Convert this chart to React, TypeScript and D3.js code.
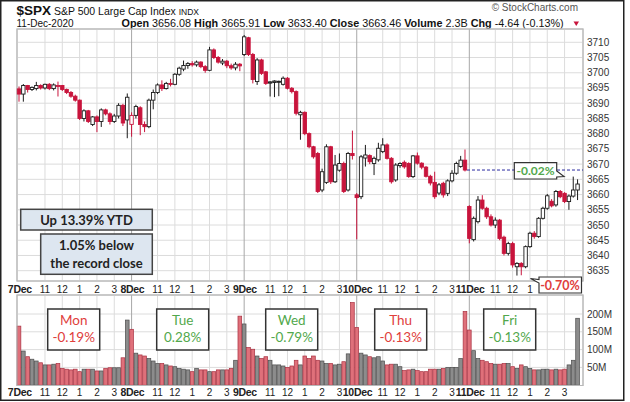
import React from 'react';
import * as d3 from 'd3';

const W = 630;
const H = 402;

const dayLabels = ['7Dec', '8Dec', '9Dec', '10Dec', '11Dec'];
const hourLabels = ['11', '12', '1', '2', '3'];
const hourOffsets = [6, 10, 14, 18, 22];
const barsPerDay = 26;

const open = [
  3694.7, 3693.0, 3695.8, 3694.5, 3694.8, 3695.8, 3695.0, 3696.2, 3694.8, 3695.5, 3695.8, 3694.5, 3693.5, 3692.3, 3691.0, 3685.0, 3687.5, 3683.0, 3685.5, 3684.0, 3687.8, 3686.5, 3684.0, 3685.8, 3689.3, 3684.5,
  3683.05, 3686.0, 3688.5, 3683.0, 3682.3, 3691.0, 3693.5, 3696.0, 3694.8, 3696.5, 3696.2, 3699.5, 3701.2, 3702.4, 3703.0, 3702.6, 3703.5, 3702.0, 3700.8, 3707.5, 3705.0, 3703.2, 3703.8, 3702.3, 3701.6, 3702.8,
  3705.98, 3711.5, 3706.0, 3697.1, 3704.2, 3700.3, 3697.0, 3697.3, 3697.2, 3696.2, 3698.2, 3694.9, 3693.8, 3686.2, 3687.0, 3680.0, 3675.7, 3673.5, 3661.5, 3664.0, 3675.7, 3664.2, 3668.0, 3670.2, 3661.5, 3673.5,
  3659.9, 3659.3, 3672.0, 3672.8, 3670.2, 3671.4, 3674.1, 3676.3, 3671.9, 3664.8, 3669.5, 3670.6, 3670.2, 3665.9, 3672.7, 3670.3, 3669.0, 3666.0, 3664.0, 3660.5, 3663.7, 3660.4, 3664.5, 3667.0, 3669.2, 3671.3,
  3656.08, 3645.2, 3651.1, 3658.2, 3655.5, 3652.7, 3650.0, 3651.6, 3646.0, 3640.7, 3643.9, 3636.3, 3637.4, 3636.3, 3642.9, 3647.3, 3646.2, 3652.2, 3655.5, 3657.8, 3656.6, 3661.0, 3660.4, 3657.7, 3659.5, 3661.5,
];
const high = [
  3695.5, 3696.3, 3696.0, 3695.5, 3697.0, 3696.2, 3696.4, 3696.6, 3696.5, 3697.1, 3696.0, 3694.8, 3694.0, 3692.8, 3691.2, 3688.0, 3687.8, 3685.8, 3686.0, 3688.3, 3688.2, 3687.0, 3686.5, 3690.0, 3689.8, 3693.2,
  3687.0, 3689.5, 3689.0, 3684.0, 3691.5, 3694.5, 3696.5, 3697.5, 3697.0, 3698.0, 3699.9, 3702.0, 3704.0, 3703.5, 3703.8, 3704.0, 3703.8, 3702.5, 3708.5, 3708.0, 3705.5, 3704.5, 3704.2, 3703.0, 3703.5, 3703.2,
  3712.4, 3711.8, 3706.5, 3704.8, 3704.6, 3700.6, 3697.2, 3697.5, 3697.4, 3698.8, 3698.6, 3695.3, 3694.2, 3687.5, 3687.3, 3680.4, 3676.0, 3674.0, 3668.5, 3676.5, 3676.0, 3673.0, 3673.5, 3670.8, 3674.0, 3681.0,
  3660.5, 3673.0, 3676.3, 3673.2, 3672.5, 3677.0, 3678.5, 3676.8, 3672.3, 3670.3, 3670.6, 3671.2, 3670.6, 3673.0, 3673.8, 3670.6, 3669.4, 3666.5, 3667.5, 3663.8, 3664.2, 3665.0, 3668.0, 3670.8, 3672.7, 3674.8,
  3656.5, 3652.8, 3659.5, 3659.8, 3656.0, 3653.5, 3652.5, 3652.0, 3646.5, 3644.5, 3644.5, 3637.8, 3637.8, 3643.3, 3647.8, 3648.0, 3652.6, 3656.0, 3660.2, 3658.5, 3661.5, 3661.5, 3660.8, 3660.0, 3665.9, 3665.0,
];
const low = [
  3690.5, 3690.5, 3693.5, 3694.0, 3694.2, 3694.5, 3694.5, 3694.3, 3694.2, 3692.2, 3694.0, 3693.0, 3691.8, 3690.5, 3684.5, 3684.0, 3683.5, 3682.5, 3680.5, 3682.2, 3686.0, 3683.0, 3683.5, 3685.0, 3682.5, 3678.5,
  3679.0, 3685.0, 3679.5, 3680.5, 3681.8, 3688.0, 3693.0, 3694.0, 3694.5, 3695.5, 3695.9, 3699.0, 3700.5, 3701.3, 3702.0, 3702.0, 3701.5, 3700.0, 3700.5, 3704.5, 3703.0, 3702.5, 3701.5, 3701.0, 3700.8, 3700.5,
  3705.5, 3705.5, 3696.5, 3696.0, 3699.3, 3696.0, 3692.2, 3692.0, 3692.3, 3695.8, 3694.5, 3693.2, 3686.0, 3678.0, 3679.5, 3675.2, 3671.8, 3660.5, 3660.8, 3663.5, 3663.5, 3663.8, 3667.5, 3660.5, 3661.0, 3671.5,
  3645.3, 3658.5, 3669.2, 3670.0, 3666.4, 3670.8, 3673.6, 3671.5, 3663.6, 3664.2, 3668.8, 3668.5, 3665.5, 3665.4, 3669.8, 3668.3, 3665.6, 3663.0, 3658.6, 3659.8, 3659.0, 3659.5, 3664.0, 3666.5, 3668.8, 3667.6,
  3644.0, 3644.6, 3650.5, 3655.0, 3652.0, 3649.5, 3649.0, 3645.0, 3640.0, 3640.0, 3636.0, 3633.4, 3633.5, 3635.8, 3642.5, 3645.5, 3645.8, 3651.8, 3655.0, 3655.8, 3656.0, 3658.8, 3657.2, 3655.0, 3659.0, 3658.2,
];
const close = [
  3693.0, 3695.8, 3694.5, 3695.2, 3695.8, 3695.0, 3696.2, 3694.8, 3696.0, 3695.8, 3694.5, 3693.5, 3692.3, 3691.0, 3685.0, 3687.5, 3684.0, 3685.5, 3684.0, 3687.8, 3686.5, 3684.0, 3685.8, 3689.3, 3683.5, 3691.96,
  3686.0, 3688.9, 3683.0, 3682.3, 3691.0, 3693.5, 3696.0, 3694.8, 3696.5, 3696.2, 3699.5, 3701.5, 3702.4, 3703.0, 3702.6, 3703.5, 3702.0, 3700.8, 3707.5, 3705.0, 3703.5, 3703.8, 3702.3, 3701.6, 3702.8, 3702.25,
  3711.8, 3706.0, 3697.8, 3704.2, 3699.8, 3696.5, 3696.6, 3696.8, 3696.9, 3698.2, 3694.9, 3693.8, 3686.7, 3687.0, 3680.0, 3675.7, 3672.4, 3661.0, 3667.5, 3675.7, 3664.2, 3669.7, 3670.2, 3661.0, 3673.5, 3672.8,
  3659.0, 3672.4, 3673.0, 3670.8, 3671.9, 3675.2, 3676.3, 3671.9, 3664.2, 3669.7, 3670.2, 3669.1, 3665.9, 3672.7, 3670.3, 3669.0, 3666.0, 3663.8, 3659.3, 3663.2, 3659.9, 3664.5, 3667.0, 3670.2, 3671.3, 3668.06,
  3645.6, 3652.2, 3658.2, 3655.5, 3652.7, 3650.0, 3651.6, 3645.6, 3640.7, 3643.9, 3636.9, 3637.4, 3636.3, 3642.9, 3647.3, 3646.2, 3652.2, 3655.5, 3659.6, 3656.3, 3661.0, 3659.3, 3657.7, 3659.5, 3661.5, 3663.46,
];
// volume in millions
const volume = [
  166, 96, 80, 73, 68, 63, 57, 57, 59, 61, 47, 45, 43, 45, 38, 45, 45, 45, 40, 40, 47, 49, 49, 49, 77, 183,
  157, 90, 85, 82, 75, 68, 61, 61, 57, 54, 52, 47, 45, 43, 38, 47, 43, 43, 38, 38, 43, 43, 43, 47, 70, 194,
  172, 106, 101, 82, 75, 80, 70, 57, 57, 54, 50, 54, 70, 57, 82, 75, 82, 70, 68, 61, 61, 57, 59, 66, 88, 232,
  162, 90, 85, 80, 77, 80, 68, 57, 59, 59, 52, 41, 43, 45, 41, 38, 38, 45, 45, 45, 47, 50, 50, 50, 75, 207,
  155, 97, 75, 70, 66, 61, 59, 59, 61, 61, 52, 47, 57, 52, 47, 43, 43, 45, 45, 43, 45, 43, 45, 57, 70, 188,
];

const priceTicks = d3.range(3635, 3711, 5);
const volumeTicks = [50, 100, 150, 200];
const volumeTickLabels = ['50M', '100M', '150M', '200M'];

const quoteLabels = ['Open', 'High', 'Low', 'Close', 'Volume', 'Chg'];
const quoteValues = ['3656.08', '3665.91', '3633.40', '3663.46', '2.3B', '-4.64 (-0.13%)'];

const weekdayNames = ['Mon', 'Tue', 'Wed', 'Thu', 'Fri'];
const weekdayChanges = ['-0.19%', '0.28%', '-0.79%', '-0.13%', '-0.13%'];
const weekdayGreen = [false, true, true, false, true];

const prevClose = 3668.06;

const RED = '#c8143c';
const TXT_RED = '#e0403c';
const TXT_GREEN = '#52a84c';
const AX = 'Liberation Sans, Arial, sans-serif';
const NOTE = 'Lato, "Open Sans", sans-serif';

export default function App() {
  const n = close.length;
  const pL = 17, pR = 583, pT = 29, pB = 281;
  const vT = 295, vB = 385.5;
  const x = d3.scaleLinear().domain([0, n - 1]).range([19, 19 + (n - 1) * 4.33]);
  const y = d3.scaleLinear().domain([3635, 3710]).range([270.7, 42.3]);
  const yv = d3.scaleLinear().domain([0, 200]).range([385.2, 314]);

  const dayIdx = d3.range(dayLabels.length).map((d) => d * barsPerDay);
  const hourIdx: { i: number; label: string }[] = [];
  dayIdx.forEach((s) => hourOffsets.forEach((o, k) => hourIdx.push({ i: s + o, label: hourLabels[k] })));

  const bw = 3.4;
  const candles = d3.range(n).map((i) => {
    const o = open[i], h = high[i], l = low[i], c = close[i];
    const pc = i > 0 ? close[i - 1] : o;
    const up = c >= pc;
    const filled = c < o;
    const col = up ? '#1a1a1a' : RED;
    const fill = filled ? (up ? '#707070' : RED) : '#ffffff';
    const top = y(Math.max(o, c));
    const bh = Math.max(1, Math.abs(y(o) - y(c)));
    return (
      <g key={i}>
        <line x1={x(i)} x2={x(i)} y1={y(h)} y2={y(l)} stroke={col} strokeWidth={1} />
        <rect x={x(i) - bw / 2} y={top} width={bw} height={bh} fill={fill} stroke={col} strokeWidth={0.9} />
      </g>
    );
  });

  const vbw = 3.7;
  const vols = d3.range(n).map((i) => {
    const pc = i > 0 ? close[i - 1] : open[0];
    const down = close[i] < pc;
    return (
      <rect key={i} x={x(i) - vbw / 2} y={yv(volume[i])} width={vbw} height={yv(0) - yv(volume[i])}
        fill={down ? '#df707a' : '#8c8c8c'} stroke={down ? '#a83040' : '#4d4d4d'} strokeWidth={0.7} />
    );
  });

  const gridV = (top: number, bot: number) => (
    <g>
      {hourIdx.map((h, k) => (
        <line key={'h' + k} x1={x(h.i)} x2={x(h.i)} y1={top} y2={bot} stroke="#dcdcdc" strokeWidth={1} />
      ))}
      {dayIdx.slice(1).map((d, k) => (
        <line key={'d' + k} x1={x(d)} x2={x(d)} y1={top} y2={bot} stroke="#a8a8a8" strokeWidth={1} />
      ))}
    </g>
  );

  // callout box of the low sits over the top axis row; labels under it are hidden
  const lowBoxL = 530;
  const axisLabels = (baseY: number, hideFrom: number) => (
    <g fontFamily={AX} fill="#222" textAnchor="middle">
      {hourIdx.filter((h) => x(h.i) < hideFrom).map((h, k) => (
        <text key={'h' + k} x={x(h.i)} y={baseY} fontSize={10}>{h.label}</text>
      ))}
      {dayIdx.map((d, k) => (
        <text key={'d' + k} x={x(d) + 0.8} y={baseY} fontSize={10.5} fontWeight="bold" letterSpacing={-0.3}>{dayLabels[k]}</text>
      ))}
    </g>
  );

  const yPC = y(prevClose);

  return (
    <svg width={W} height={H} style={{ position: 'absolute', left: 0, top: 0, background: '#fff' }}>
      <rect x={0} y={0} width={W} height={H} fill="#fff" />
      {/* header */}
      <g fontFamily={AX} fill="#111">
        <text x={16.5} y={14.5} xmlSpace="preserve">
          <tspan fontSize={13.5} fontWeight="bold">$SPX</tspan>
          <tspan fontSize={10.5}> S&amp;P 500 Large Cap Index </tspan>
          <tspan fontSize={8.5}>INDX</tspan>
        </text>
        <text x={16.5} y={27} fontSize={10}>11-Dec-2020</text>
        <text x={121.5} y={27} fontSize={10.8} xmlSpace="preserve">
          {quoteLabels.map((lb, k) => (
            <React.Fragment key={lb}>
              <tspan fontWeight="bold">{(k > 0 ? ' ' : '') + lb + ' '}</tspan>
              <tspan>{quoteValues[k]}</tspan>
            </React.Fragment>
          ))}
        </text>
        <path d="M573.5,21.5 L579,21.5 L576.25,26 Z" fill={RED} />
        <text x={578} y={11} fontSize={10} textAnchor="end" fill="#555">© StockCharts.com</text>
      </g>

      {/* price panel */}
      <rect x={pL} y={pT} width={pR - pL} height={pB - pT} fill="#fff" stroke="#b8b8b8" />
      {priceTicks.map((p) => (
        <line key={p} x1={pL} x2={pR} y1={y(p)} y2={y(p)} stroke="#dcdcdc" strokeWidth={1} />
      ))}
      {gridV(pT, pB)}
      <rect x={pL} y={pT} width={pR - pL} height={pB - pT} fill="none" stroke="#b8b8b8" />
      <line x1={x(103) + 2} x2={pR} y1={yPC} y2={yPC} stroke="#2a2aa0" strokeWidth={1} strokeDasharray="3,2" />
      {candles}
      <g fontFamily={AX} fontSize={10} fill="#333">
        {priceTicks.map((p) => (
          <text key={p} x={587} y={y(p) + 3.5}>{p}</text>
        ))}
      </g>

      {/* volume panel */}
      <rect x={pL} y={vT} width={pR - pL} height={vB - vT} fill="#fff" stroke="#b8b8b8" />
      {volumeTicks.map((v) => (
        <line key={v} x1={pL} x2={pR} y1={yv(v)} y2={yv(v)} stroke="#dcdcdc" strokeWidth={1} />
      ))}
      {gridV(vT, vB)}
      {vols}
      <rect x={pL} y={vT} width={pR - pL} height={vB - vT} fill="none" stroke="#b8b8b8" />
      <g fontFamily={AX} fontSize={10} fill="#333">
        {volumeTicks.map((v, k) => (
          <text key={v} x={587} y={yv(v) + 3.5}>{volumeTickLabels[k]}</text>
        ))}
      </g>

      {axisLabels(292.5, lowBoxL + 4)}
      {axisLabels(396, 9999)}

      {/* notes */}
      <g fontFamily={NOTE} fontWeight="bold" fill="#222" textAnchor="middle">
        <rect x={20.7} y={209.3} width={131.6} height={20.7} fill="#dde6f0" stroke="#444" strokeWidth={1.5} />
        <text x={86.5} y={224.5} fontSize={13}>Up 13.39% YTD</text>
        <rect x={40.7} y={234} width={111.6} height={40.3} fill="#dde6f0" stroke="#444" strokeWidth={1.5} />
        <text x={96.5} y={250} fontSize={13}>1.05% below</text>
        <text x={96.5} y={267.5} fontSize={13}>the record close</text>
      </g>

      <path d="M514.3,162.7 H556.7 V171 L564,176.5 L556.7,177 V179 H514.3 Z" fill="#fff" stroke="#333" strokeWidth={1.2} />
      <text x={535.5} y={175} fontFamily={NOTE} fontWeight="bold" fontSize={12} fill={TXT_GREEN} textAnchor="middle">-0.02%</text>

      <path d="M539,277 H581.5 V293 H539 V283 L530.5,278.5 L539,279.5 Z" fill="#fff" stroke="#333" strokeWidth={1.2} />
      <text x={560} y={289.5} fontFamily={NOTE} fontWeight="bold" fontSize={12.5} fill={TXT_RED} textAnchor="middle">-0.70%</text>

      {weekdayNames.map((nm, k) => {
        const bx = 47.7 + k * 109;
        const col = weekdayGreen[k] ? TXT_GREEN : TXT_RED;
        return (
          <g key={nm} fontFamily={NOTE} fontSize={13.5} fill={col} textAnchor="middle">
            <rect x={bx} y={309} width={52} height={41} fill="#fff" stroke="#333" strokeWidth={1.5} />
            <text x={bx + 26} y={325}>{nm}</text>
            <text x={bx + 26} y={342}>{weekdayChanges[k]}</text>
          </g>
        );
      })}

      <rect x={0.75} y={0.75} width={623} height={399.5} fill="none" stroke="#222" strokeWidth={1.5} />
    </svg>
  );
}
